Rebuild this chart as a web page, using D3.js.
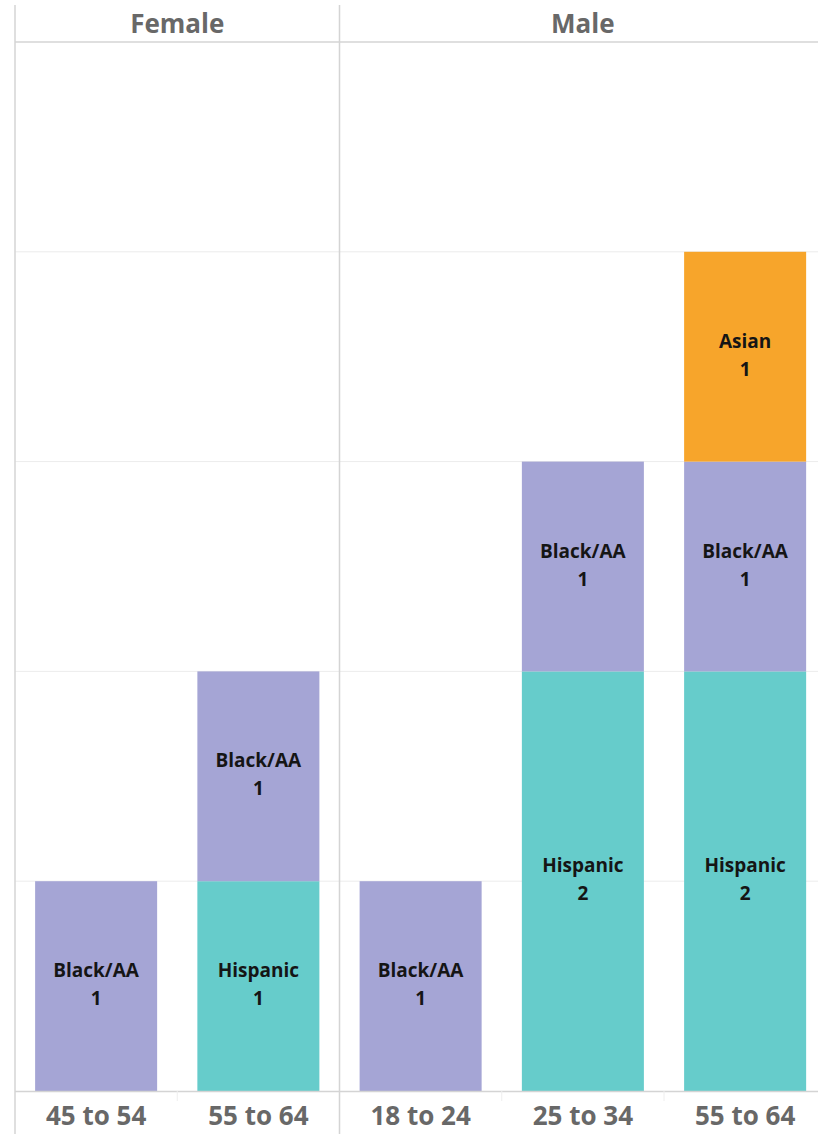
<!DOCTYPE html>
<html><head><meta charset="utf-8">
<script src="https://cdn.jsdelivr.net/npm/d3@7"></script>
<style>body{margin:0;background:#fff;overflow:hidden}</style>
</head><body>
<svg id="c" width="818" height="1134"></svg>
<script>
const genders = ["Female", "Male"];
const columns = [
  {gender: "Female", age: "45 to 54"},
  {gender: "Female", age: "55 to 64"},
  {gender: "Male", age: "18 to 24"},
  {gender: "Male", age: "25 to 34"},
  {gender: "Male", age: "55 to 64"}
];
const races = ["Hispanic", "Black/AA", "Asian"];
const hispanic = [0, 1, 0, 2, 2];
const blackAA = [1, 1, 1, 1, 1];
const asian = [0, 0, 0, 0, 1];
const yTicks = [0, 1, 2, 3, 4];
const colors = {"Hispanic": "#66cccb", "Black/AA": "#a5a5d5", "Asian": "#f7a52b"};

const svg = d3.select("#c");
const plotLeft = 15, plotTop = 42, plotBottom = 1091, step = 162.25;
const font = "'Open Sans', Lato, sans-serif";

const y = d3.scaleLinear().domain([0, 5]).range([plotBottom, plotTop]);
const x = d3.scaleBand().domain(d3.range(columns.length)).range([plotLeft, plotLeft + step * columns.length]).paddingInner(0.248).paddingOuter(0.124);

// gridlines
svg.append("g").selectAll("line").data(yTicks.slice(1)).join("line")
  .attr("x1", plotLeft).attr("x2", 818).attr("y1", d => y(d)).attr("y2", d => y(d))
  .attr("stroke", "#ececec").attr("stroke-width", 1);

// stacked data
const table = columns.map((c, i) => ({i, "Hispanic": hispanic[i], "Black/AA": blackAA[i], "Asian": asian[i]}));
const stack = d3.stack().keys(races)(table);

const gBars = svg.append("g");
stack.forEach(layer => {
  const key = layer.key;
  layer.forEach(d => {
    if (d[1] - d[0] <= 0) return;
    const i = d.data.i;
    gBars.append("rect")
      .attr("x", x(i)).attr("width", x.bandwidth())
      .attr("y", y(d[1])).attr("height", y(d[0]) - y(d[1]))
      .attr("fill", colors[key]);
    const cy = (y(d[0]) + y(d[1])) / 2;
    const t = gBars.append("text").attr("text-anchor", "middle")
      .attr("font-family", font).attr("font-weight", "bold").attr("font-size", 19)
      .attr("fill", "#151515");
    t.append("tspan").attr("x", x(i) + x.bandwidth() / 2).attr("y", cy - 9).text(key);
    t.append("tspan").attr("x", x(i) + x.bandwidth() / 2).attr("y", cy + 19).text(d[1] - d[0]);
  });
});

// axis line
svg.append("line").attr("x1", plotLeft).attr("x2", 818).attr("y1", plotBottom + 0.5).attr("y2", plotBottom + 0.5)
  .attr("stroke", "#d4d4d4").attr("stroke-width", 1.5);
// band boundary ticks
svg.append("g").selectAll("line").data(d3.range(1, columns.length)).join("line")
  .attr("x1", i => plotLeft + step * i).attr("x2", i => plotLeft + step * i)
  .attr("y1", plotBottom).attr("y2", plotBottom + 10).attr("stroke", "#eeeeee");

// header line
svg.append("line").attr("x1", plotLeft).attr("x2", 818).attr("y1", plotTop).attr("y2", plotTop)
  .attr("stroke", "#d4d4d4").attr("stroke-width", 1.5);
// left border
svg.append("line").attr("x1", plotLeft).attr("x2", plotLeft).attr("y1", 5).attr("y2", 1134)
  .attr("stroke", "#d4d4d4").attr("stroke-width", 1.5);
// panel divider
const divX = plotLeft + step * 2;
svg.append("line").attr("x1", divX).attr("x2", divX).attr("y1", 5).attr("y2", 1134)
  .attr("stroke", "#d4d4d4").attr("stroke-width", 1.5);

// headers
const panels = genders.map(g => {
  const idx = columns.map((c, i) => c.gender === g ? i : -1).filter(i => i >= 0);
  return {g, x0: plotLeft + step * d3.min(idx), x1: plotLeft + step * (d3.max(idx) + 1)};
});
svg.append("g").selectAll("text").data(panels).join("text")
  .attr("x", d => (d.x0 + d.x1) / 2)
  .attr("y", 33).attr("text-anchor", "middle")
  .attr("font-family", font).attr("font-weight", "bold").attr("font-size", 26)
  .attr("fill", "#686868").text(d => d.g);

// x labels
svg.append("g").selectAll("text").data(columns).join("text")
  .attr("x", (d, i) => x(i) + x.bandwidth() / 2).attr("y", 1125)
  .attr("text-anchor", "middle")
  .attr("font-family", font).attr("font-weight", "bold").attr("font-size", 26)
  .attr("fill", "#686868").text(d => d.age);
</script>
</body></html>
